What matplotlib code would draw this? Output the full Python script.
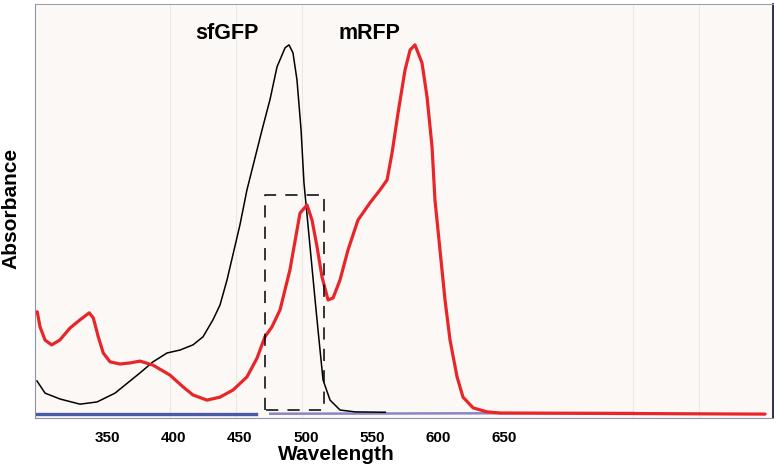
import numpy as np
import matplotlib
matplotlib.use("Agg")
import matplotlib.pyplot as plt

plt.rcParams['font.family'] = ['Liberation Sans', 'DejaVu Sans']

# sfGFP absorbance (black)
gfp_nm = [296.7, 302.8, 314.1, 329.2, 342.1, 355.7, 374.6, 384.4, 395.0, 404.8,
          414.6, 422.2, 429.7, 435.0, 440.3, 450.1, 455.4, 466.8, 472.8, 478.1,
          484.2, 487.2, 490.2, 493.2, 496.3, 498.5, 503.1, 506.9, 509.1, 512.9,
          518.2, 525.8, 537.1, 560.0]
gfp_abs = [0.087, 0.054, 0.038, 0.024, 0.030, 0.054, 0.109, 0.139, 0.163, 0.171,
           0.185, 0.207, 0.253, 0.293, 0.361, 0.511, 0.606, 0.769, 0.851, 0.940,
           0.992, 1.000, 0.978, 0.905, 0.769, 0.625, 0.451, 0.307, 0.226, 0.090,
           0.035, 0.008, 0.003, 0.002]

# mRFP absorbance (red)
rfp_nm = [296.9, 299.0, 302.8, 307.8, 313.9, 321.7, 329.2, 336.2, 339.3, 343.0,
          346.8, 351.9, 359.4, 367.0, 374.6, 384.4, 397.2, 407.1, 414.6, 425.2,
          435.0, 444.9, 455.4, 463.0, 469.0, 474.3, 480.4, 487.9, 495.5, 500.8,
          504.6, 508.4, 512.1, 516.7, 520.5, 525.7, 531.8, 539.3, 548.4, 556.0,
          561.3, 565.1, 569.6, 574.9, 578.7, 582.4, 587.7, 591.5, 595.3, 597.5,
          601.3, 605.1, 608.9, 614.2, 618.7, 626.3, 636.9, 646.7, 847.0]
rfp_abs = [0.275, 0.234, 0.198, 0.185, 0.198, 0.231, 0.253, 0.272, 0.258, 0.207,
           0.163, 0.139, 0.133, 0.136, 0.141, 0.130, 0.103, 0.071, 0.049, 0.035,
           0.043, 0.0625, 0.098, 0.149, 0.207, 0.234, 0.280, 0.389, 0.543, 0.565,
           0.524, 0.451, 0.370, 0.307, 0.3125, 0.361, 0.443, 0.524, 0.571, 0.606,
           0.633, 0.707, 0.815, 0.932, 0.986, 1.000, 0.951, 0.859, 0.723, 0.579,
           0.443, 0.307, 0.198, 0.098, 0.043, 0.014, 0.003, 0.000, -0.003]

# baseline traces
base1_nm = [296.7, 462.0]
base1_abs = [-0.003, -0.003]
base2_nm = [473.0, 747.2]
base2_abs = [-0.002, 0.000]

# excitation window (dashed box)
box_nm = [469.0, 513.5]
box_abs = [0.008, 0.591]

tick_vals = [350, 400, 450, 500, 550, 600, 650]
grid_vals = [397, 447, 497, 747, 797]

fig = plt.figure(figsize=(7.76, 4.68), dpi=100)
ax = fig.add_axes([35/776, 1-418/468, 738/776, 414/468])
ax.set_facecolor('#fcf8f5')

for g in grid_vals:
    ax.axvline(g, color='#ece6e4', lw=0.8, zorder=0)

ax.plot(base1_nm, base1_abs, color='#4a5aa8', lw=2.4, zorder=2)
ax.plot(base2_nm, base2_abs, color='#8a86c4', lw=1.8, zorder=2)
ax.plot(gfp_nm, gfp_abs, color='black', lw=1.1, zorder=3)
ax.plot(rfp_nm, rfp_abs, color='#e8262a', lw=2.3, zorder=4,
        solid_joinstyle='round', solid_capstyle='round')
ax.plot([box_nm[0], box_nm[0], box_nm[1], box_nm[1], box_nm[0]],
        [box_abs[0], box_abs[1], box_abs[1], box_abs[0], box_abs[0]],
        color='black', lw=1.1, ls=(0, (8, 6)), zorder=5)

ax.set_xlim(295.2, 853)
ax.set_ylim(-0.0136, 1.111)
ax.set_xticks(tick_vals)
ax.set_xticklabels([str(t) for t in tick_vals], fontsize=11, fontweight='bold')
ax.tick_params(axis='x', length=0, pad=9)
ax.set_yticks([])

ax.spines['left'].set_color('#8c93a8')
ax.spines['bottom'].set_color('#8c93a8')
ax.spines['top'].set_color('#a0a0a8')
ax.spines['right'].set_color('#1a2040')
ax.spines['right'].set_linewidth(1.3)

ax.set_xlabel('Wavelength', fontsize=15, fontweight='bold', labelpad=0)
ax.xaxis.set_label_coords(0.408, -0.065)
ax.set_ylabel('Absorbance', fontsize=15, fontweight='bold', labelpad=8)
ax.yaxis.set_label_coords(-0.0195, 0.507)

ax.text(440, 1.03, 'sfGFP', fontsize=15.5, fontweight='bold', ha='center', va='center')
ax.text(548, 1.03, 'mRFP', fontsize=15.5, fontweight='bold', ha='center', va='center')

fig.savefig('out.png', dpi=100)
